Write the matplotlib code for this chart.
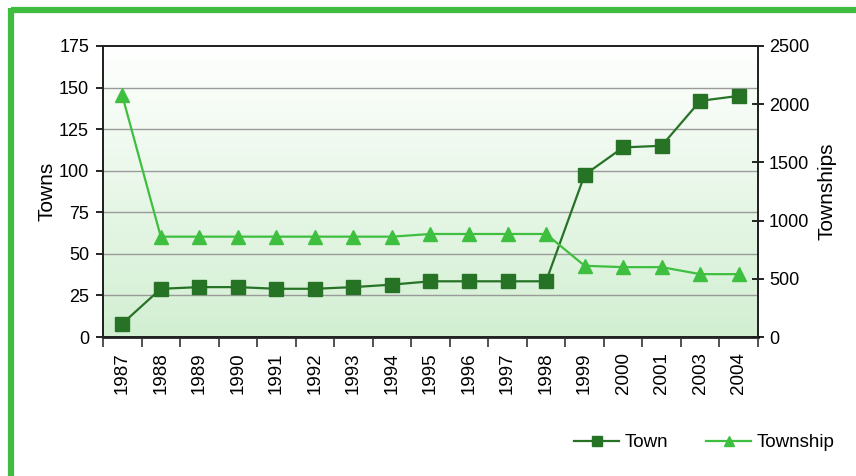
import numpy as np
import matplotlib
matplotlib.use("Agg")
from matplotlib import pyplot as plt
from matplotlib.colors import LinearSegmentedColormap
from matplotlib.lines import Line2D

plt.rcParams['font.family'] = ['Liberation Sans', 'DejaVu Sans']

years = ["1987", "1988", "1989", "1990", "1991", "1992", "1993", "1994", "1995",
         "1996", "1997", "1998", "1999", "2000", "2001", "2003", "2004"]
towns = [8, 29, 30, 30, 29, 29, 30, 31.5, 33.5, 33.5, 33.5, 33.5,
         97.5, 114, 115, 142, 145]
townships = [2075, 862, 862, 862, 862, 862, 862, 862, 885, 885, 885, 885,
             612, 600, 600, 540, 540]

town_col = "#267326"
township_col = "#3fbf3f"
frame_col = "#40bc40"

fig = plt.figure(figsize=(8.56, 4.76), dpi=100)
ax = fig.add_axes([0.1203, 0.292, 0.7652, 0.6114])
ax2 = ax.twinx()

x = np.arange(len(years))

# gradient background: white at top to pale green at bottom
grad = LinearSegmentedColormap.from_list("g", ["#d2efd2", "#ffffff"])
ax.imshow(np.linspace(0, 1, 256).reshape(-1, 1), aspect="auto", cmap=grad,
          origin="lower", extent=[-0.5, len(years) - 0.5, 0, 175], zorder=0)

ax.set_xlim(-0.5, len(years) - 0.5)
ax.set_ylim(0, 175)
ax2.set_ylim(0, 2500)
ax.set_yticks(np.arange(0, 176, 25))
ax2.set_yticks(np.arange(0, 2501, 500))
for v in range(25, 175, 25):
    ax.axhline(v, color="#9a9a9a", lw=1.0, zorder=1)

ax.set_xticks(x)
ax.set_xticklabels(years, rotation=90, fontsize=13.5)
ax.set_xticks(np.arange(-0.5, len(years), 1), minor=True)
ax.tick_params(axis="x", which="major", length=0, pad=11)
ax.tick_params(axis="x", which="minor", direction="out", length=7, width=1.2, color="#333333")
ax.tick_params(axis="y", direction="out", length=5, width=1.2, labelsize=13, pad=5)
ax2.tick_params(axis="y", direction="inout", length=8, width=1.2, labelsize=13, pad=4)

for a in (ax, ax2):
    for s in a.spines.values():
        s.set_color("#222222")
        s.set_linewidth(1.3)
ax.spines["bottom"].set_linewidth(2.0)

ax.set_ylabel("Towns", fontsize=15, labelpad=2)
ax2.set_ylabel("Townships", fontsize=15, labelpad=6)

l1, = ax.plot(x, towns, color=town_col, lw=1.6, marker="s", ms=9.5, zorder=3)
l2, = ax2.plot(x, townships, color=township_col, lw=1.6, marker="^", ms=10, zorder=3)
ax.set_zorder(ax2.get_zorder() - 1)
ax2.patch.set_visible(False)
ax.set_axisbelow(False)

fig.legend([l1, l2], ["Town", "Township"], loc="center", bbox_to_anchor=(0.823, 0.07),
           ncol=2, frameon=False, fontsize=13.5, handlelength=2.4, columnspacing=2.0,
           handletextpad=0.3, markerscale=0.75)

# green frame (top and left edges)
fig.add_artist(Line2D([0.0128, 1.0], [0.978, 0.978], transform=fig.transFigure,
                      color=frame_col, lw=4.5, solid_capstyle="butt"))
fig.add_artist(Line2D([0.0128, 0.0128], [0.983, 0.0], transform=fig.transFigure,
                      color=frame_col, lw=4.5, solid_capstyle="butt"))

fig.savefig("out.png", dpi=100)
